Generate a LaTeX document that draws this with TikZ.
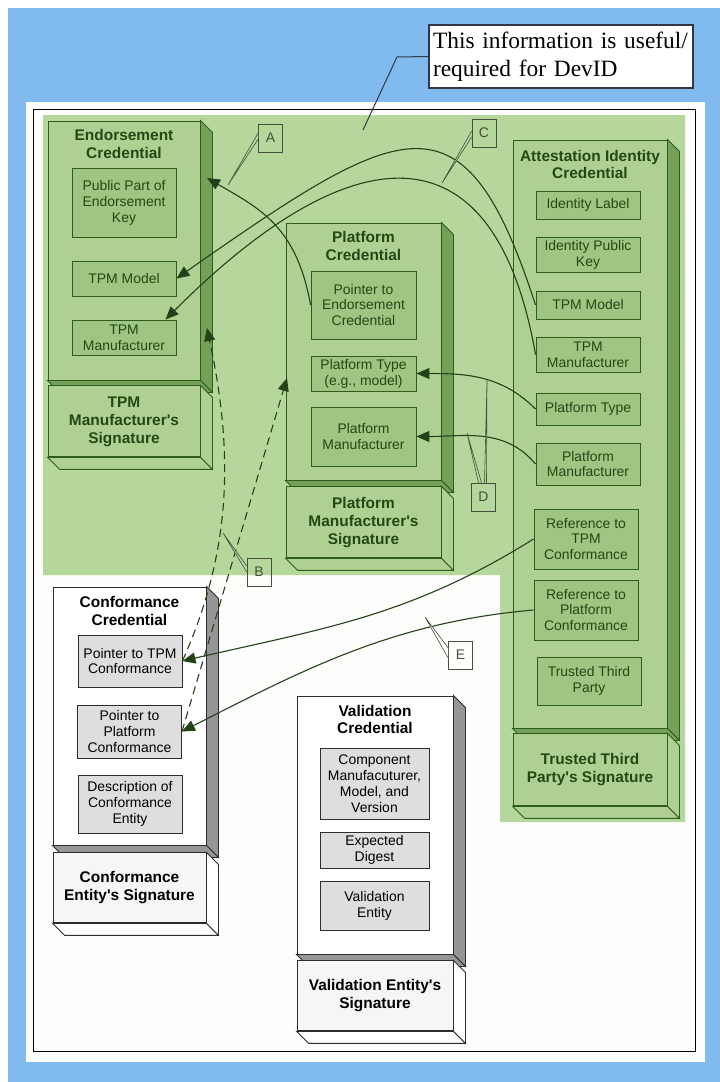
\documentclass[tikz,border=0pt]{standalone}
\usepackage{fontspec}
\setmainfont{Liberation Serif}
\setsansfont{Liberation Sans}
\usepackage{tikz}
\usetikzlibrary{arrows.meta,positioning}

\definecolor{skyblue}{RGB}{128,186,239}
\definecolor{paper}{RGB}{253,253,251}
\definecolor{leafbg}{RGB}{181,215,155}
\definecolor{leafbox}{RGB}{174,209,147}
\definecolor{leafitem}{RGB}{158,197,130}
\definecolor{leafside}{RGB}{116,160,90}
\definecolor{leafline}{RGB}{46,92,30}
\definecolor{leaftext}{RGB}{34,72,20}
\definecolor{linkgreen}{RGB}{36,66,24}
\definecolor{greyside}{RGB}{150,150,150}
\definecolor{greyitem}{RGB}{222,222,222}
\definecolor{greyline}{RGB}{45,45,45}
\definecolor{sigwhite}{RGB}{246,246,246}
\definecolor{tagline}{RGB}{70,78,62}
\definecolor{noteline}{RGB}{50,55,70}

\newcommand{\titlefont}{\sffamily\bfseries\fontsize{15.5}{18}\selectfont}
\newcommand{\itemfont}{\sffamily\fontsize{14}{16}\selectfont}
\newcommand{\tagfont}{\sffamily\fontsize{14}{16}\selectfont}
\newcommand{\notefont}{\rmfamily\fontsize{23.5}{28}\selectfont}
\newcommand{\apos}{\textquotesingle}
\newcommand{\boxsides}[3]{%
  \filldraw[fill=#2,draw=#3,line width=0.9bp] (#1.north east) -- ++(12,-12) -- ([shift={(12,-12)}]#1.south east) -- (#1.south east) -- cycle;
  \filldraw[fill=#2,draw=#3,line width=0.9bp] (#1.south west) -- ([shift={(12,-12)}]#1.south west) -- ([shift={(12,-12)}]#1.south east) -- (#1.south east) -- cycle;}

\begin{document}
\begin{tikzpicture}[x=1bp,y=1bp,>={Triangle[length=13bp,width=11bp]},semithick]
		\tikzstyle{gcred}=[draw=leafline,fill=leafbox,line width=0.9bp,inner sep=0pt,minimum width=153bp]
		\tikzstyle{gsig}=[gcred,minimum height=71bp,text=leaftext,font=\titlefont,align=center]
		\tikzstyle{gtitle}=[text=leaftext,font=\titlefont,align=center]
		\tikzstyle{gitem}=[draw=leafline,fill=leafitem,line width=0.9bp,inner sep=0pt,minimum width=104bp,text=leaftext,font=\itemfont,align=center]
		\tikzstyle{wcred}=[draw=greyline,fill=white,line width=0.9bp,inner sep=0pt,minimum width=154bp]
		\tikzstyle{wsig}=[wcred,fill=sigwhite,minimum height=70bp,font=\titlefont,align=center]
		\tikzstyle{wtitle}=[font=\titlefont,align=center]
		\tikzstyle{witem}=[draw=greyline,fill=greyitem,line width=0.9bp,inner sep=0pt,minimum width=104bp,font=\itemfont,align=center]
		\tikzstyle{tag}=[draw=tagline,text=tagline,font=\tagfont,minimum width=24bp,minimum height=28bp,inner sep=0pt]
		\tikzstyle{wedge}=[draw=tagline,line width=0.6bp]
		\tikzstyle{link}=[->,draw=linkgreen,line width=1.1bp]
		\tikzstyle{dashlink}=[link,dash pattern=on 8bp off 5bp]
		\tikzstyle{note}=[draw=noteline,fill=white,line width=1.2bp,font=\notefont,align=left,text width=256bp,inner sep=4bp,minimum height=63bp]

		\useasboundingbox (0,0) rectangle (720,-1082);
		\fill[white] (0,0) rectangle (720,-1082);
		\fill[skyblue] (8,-8) rectangle (720,-1082);
		\fill[paper] (26,-102) rectangle (705,-1062);
		\draw[line width=1bp] (33,-109) rectangle (695,-1051);
		\fill[leafbg] (43,-115) -- (685,-115) -- (685,-822) -- (500,-822) -- (500,-575) -- (43,-575) -- cycle;

		\node[note] (info) at (561,-56.5) {This information is useful/\\required for DevID};
		\coordinate (infoknee) at (397,-57);
		\coordinate (infoend) at (363,-130);
		\draw[noteline,line width=1bp] (info.west) -- (infoknee) -- (infoend);

		\node[gcred,minimum width=152bp,minimum height=259bp] (EC) at (124,-250.5) {};
		\boxsides{EC}{leafside}{leafline}
		\node[gsig,minimum width=152bp,below=5bp of EC] (ECsig) {TPM\\Manufacturer\apos s\\Signature};
		\boxsides{ECsig}{leafbox}{leafline}
		\node[gtitle] (ECt) at (124,-144) {Endorsement\\Credential};
		\node[gitem,minimum height=69bp] (ECkey) at (124,-202.5) {Public Part of\\Endorsement\\Key};
		\node[gitem,minimum height=35bp] (ECmodel) at (124,-278.5) {TPM Model};
		\node[gitem,minimum height=35bp] (ECmanu) at (124,-337.5) {TPM\\Manufacturer};

		\node[gcred,minimum width=155bp,minimum height=257bp] (PC) at (363.5,-351.5) {};
		\boxsides{PC}{leafside}{leafline}
		\node[gsig,minimum width=155bp,below=6bp of PC] (PCsig) {Platform\\Manufacturer\apos s\\Signature};
		\boxsides{PCsig}{leafbox}{leafline}
		\node[gtitle] (PCt) at (363.5,-246) {Platform\\Credential};
		\node[gitem,minimum width=105bp,minimum height=68bp] (PCptr) at (363.5,-305) {Pointer to\\Endorsement\\Credential};
		\node[gitem,minimum width=105bp,minimum height=35bp] (PCtype) at (363.5,-373.5) {Platform Type\\(e.g., model)};
		\node[gitem,minimum width=105bp,minimum height=59bp] (PCmanu) at (363.5,-436.5) {Platform\\Manufacturer};

		\node[gcred,minimum width=154bp,minimum height=588bp] (AIC) at (590,-434) {};
		\boxsides{AIC}{leafside}{leafline}
		\node[gsig,minimum width=154bp,minimum height=72bp,below=5bp of AIC] (AICsig) {Trusted Third\\Party\apos s Signature};
		\boxsides{AICsig}{leafbox}{leafline}
		\node[gtitle] (AICt) at (590,-164.5) {Attestation Identity\\Credential};
		\node[gitem,minimum height=28bp] (AIClabel) at (588,-205) {Identity Label};
		\node[gitem,minimum height=35bp] (AICkey) at (588,-254.5) {Identity Public\\Key};
		\node[gitem,minimum height=28bp] (AICmodel) at (588,-305) {TPM Model};
		\node[gitem,minimum height=35bp] (AICmanu) at (588,-354.5) {TPM\\Manufacturer};
		\node[gitem,minimum height=32bp] (AICtype) at (588,-409) {Platform Type};
		\node[gitem,minimum height=42bp] (AICpmanu) at (588,-464) {Platform\\Manufacturer};
		\node[gitem,minimum height=60bp] (AICreftpm) at (586,-539) {Reference to\\TPM\\Conformance};
		\node[gitem,minimum height=60bp] (AICrefplat) at (586,-610) {Reference to\\Platform\\Conformance};
		\node[gitem,minimum height=48bp] (AICttp) at (589,-681) {Trusted Third\\Party};

		\node[wcred,minimum width=153bp,minimum height=258bp] (CC) at (129.5,-716) {};
		\boxsides{CC}{greyside}{greyline}
		\node[wsig,minimum width=153bp,below=7bp of CC] (CCsig) {Conformance\\Entity\apos s Signature};
		\boxsides{CCsig}{white}{greyline}
		\node[wtitle] (CCt) at (129.5,-611) {Conformance\\Credential};
		\node[witem,minimum height=52bp] (CCtpm) at (130,-661) {Pointer to TPM\\Conformance};
		\node[witem,minimum height=53bp] (CCplat) at (129.5,-731.5) {Pointer to\\Platform\\Conformance};
		\node[witem,minimum height=58bp] (CCdesc) at (130,-804) {Description of\\Conformance\\Entity};

		\node[wcred,minimum width=156bp,minimum height=258bp] (VC) at (375,-825) {};
		\boxsides{VC}{greyside}{greyline}
		\node[wsig,minimum width=156bp,below=6bp of VC] (VCsig) {Validation Entity\apos s\\Signature};
		\boxsides{VCsig}{white}{greyline}
		\node[wtitle] (VCt) at (375,-719.5) {Validation\\Credential};
		\node[witem,minimum width=109bp,minimum height=71bp] (VCcomp) at (374.5,-783.5) {Component\\Manufacuturer,\\Model, and\\Version};
		\node[witem,minimum width=109bp,minimum height=36bp] (VCdig) at (374.5,-850) {Expected\\Digest};
		\node[witem,minimum width=109bp,minimum height=49bp] (VCent) at (374.5,-905.5) {Validation\\Entity};

		\coordinate (ECside) at (207,-178);
		\coordinate (ECdash) at (207,-328);
		\coordinate (PCdash) at (287,-378);

		\draw[link] (AICmodel.west) to[out=108,in=35,out distance=230bp,in distance=280bp] (ECmodel.east);
		\draw[link] (AICmanu.west) to[out=100,in=45,out distance=240bp,in distance=260bp] ([xshift=-11bp]ECmanu.north east);
		\draw[link] (PCptr.west) to[out=100,in=-30,out distance=80bp,in distance=60bp] (ECside);
		\draw[link] (AICtype.west) to[out=135,in=0] (PCtype.east);
		\draw[link] (AICpmanu.west) to[out=130,in=0] (PCmanu.east);
		\draw[link] (AICreftpm.west) to[out=212,in=13] (CCtpm.east);
		\draw[link] (AICrefplat.west) to[out=185,in=27,out distance=140bp,in distance=140bp] (CCplat.east);
		\draw[dashlink] (CCtpm.east) to[out=66,in=-78,out distance=120bp,in distance=130bp] (ECdash);
		\draw[dashlink] (CCplat.east) -- (PCdash);

		\node[tag] (A) at (270.5,-138) {A};
		\node[tag] (B) at (259,-572) {B};
		\node[tag] (C) at (484,-133) {C};
		\node[tag] (D) at (483.5,-497) {D};
		\node[tag] (E) at (460.5,-655) {E};
		\coordinate (Atip) at (228,-185);
		\coordinate (Btip) at (223,-533);
		\coordinate (Ctip) at (442,-183);
		\coordinate (Dtip) at (487,-380);
		\coordinate (Dtip2) at (467,-433);
		\coordinate (Etip) at (425,-617);
		\filldraw[wedge,fill=leafbg] ([yshift=5bp]A.west) -- (Atip) -- ([yshift=-1bp]A.west);
		\filldraw[wedge,fill=leafbg] ([yshift=6bp]B.west) -- (Btip) -- ([yshift=0bp]B.west);
		\filldraw[wedge,fill=leafbg] ([yshift=2bp]C.west) -- (Ctip) -- ([yshift=-4bp]C.west);
		\filldraw[wedge,fill=leafbg] ([xshift=1bp]D.north) -- (Dtip) -- ([xshift=3bp]D.north);
		\filldraw[wedge,fill=leafbg] ([xshift=-5bp]D.north) -- (Dtip2) -- ([xshift=-2bp]D.north);
		\filldraw[wedge,fill=white] ([yshift=7bp]E.west) -- (Etip) -- ([yshift=-3bp]E.west);
	\end{tikzpicture}
\end{document}
